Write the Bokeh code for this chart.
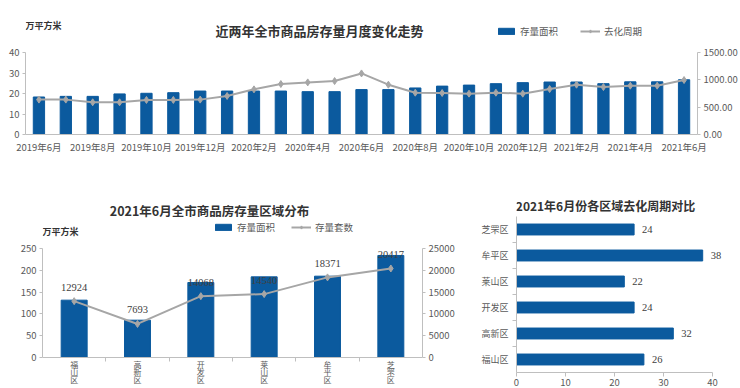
from bokeh.plotting import figure
from bokeh.models import (Range1d, LinearAxis, FixedTicker, NumeralTickFormatter, Label,
                          Legend, LegendItem, ColumnDataSource, LabelSet)
from bokeh.layouts import column, row
from bokeh.embed import file_html
from bokeh.resources import INLINE

FONT = "Noto Sans CJK SC"
BLUE = "#0b5a9e"
GRAY = "#a6a6a6"
AXIS = "#bfbfbf"
TICK_TXT = "#595959"
TITLE_TXT = "#333333"

# ---------------- data ----------------
months = ["2019年6月", "2019年7月", "2019年8月", "2019年9月", "2019年10月", "2019年11月",
          "2019年12月", "2020年1月", "2020年2月", "2020年3月", "2020年4月", "2020年5月",
          "2020年6月", "2020年7月", "2020年8月", "2020年9月", "2020年10月", "2020年11月",
          "2020年12月", "2021年1月", "2021年2月", "2021年3月", "2021年4月", "2021年5月",
          "2021年6月"]
stock_area = [18.3, 18.6, 18.6, 19.8, 20.1, 20.4, 21.2, 21.2, 21.2, 21.2, 20.9, 20.9, 21.9,
              21.9, 22.7, 23.6, 24.1, 24.8, 25.3, 25.6, 25.6, 24.8, 25.7, 25.7, 26.7]
destock_cycle = [638, 638, 589, 589, 632, 632, 638, 705, 826, 923, 953, 978, 1117,
                 911, 765, 759, 747, 765, 747, 832, 911, 868, 893, 893, 996]
area_ticks = [0, 10, 20, 30, 40]
cycle_ticks = [0, 500, 1000, 1500]

districts = ["福山区", "高新区", "开发区", "莱山区", "牟平区", "芝罘区"]
district_area = [131.5, 85.6, 172, 185, 186.5, 234]
district_units = [12924, 7693, 14068, 14540, 18371, 20417]
d_area_ticks = [0, 50, 100, 150, 200, 250]
d_unit_ticks = [0, 5000, 10000, 15000, 20000, 25000]

cycle_districts = ["福山区", "高新区", "开发区", "莱山区", "牟平区", "芝罘区"]  # bottom to top
cycle_months = [26, 32, 24, 22, 38, 24]
month_ticks = [0, 10, 20, 30, 40]


def style_axis(ax, size="9.5px"):
    ax.axis_line_color = AXIS
    ax.major_tick_line_color = AXIS
    ax.minor_tick_line_color = None
    ax.major_tick_in = 0
    ax.major_tick_out = 3
    ax.major_label_text_font = FONT
    ax.major_label_text_font_size = size
    ax.major_label_text_color = TICK_TXT
    ax.major_label_standoff = 3


def base_fig(w, h, xr, yr, bl, br, bt, bb):
    p = figure(width=w, height=h, x_range=xr, y_range=yr, output_backend="svg",
               toolbar_location=None, min_border_left=bl, min_border_right=br,
               min_border_top=bt, min_border_bottom=bb, title=None)
    p.frame_align = False
    p.outline_line_color = None
    p.xgrid.visible = False
    p.ygrid.visible = False
    p.background_fill_color = "white"
    p.border_fill_color = "white"
    return p


def txt(p, x, y, s, size="12px", bold=False, align="left", color=TITLE_TXT):
    p.add_layout(Label(x=x, y=y, x_units="screen", y_units="screen", text=s,
                       text_font=FONT, text_font_size=size,
                       text_font_style="bold" if bold else "normal",
                       text_align=align, text_baseline="middle", text_color=color))


def legend(p, items, loc, spacing=22):
    lg = Legend(items=items, location=loc, orientation="horizontal",
                border_line_color=None, background_fill_alpha=0, padding=0, margin=0,
                spacing=spacing, glyph_width=20, glyph_height=8, label_height=8,
                label_standoff=4, label_text_font=FONT, label_text_font_size="9.5px",
                label_text_color=TICK_TXT)
    p.add_layout(lg)


# ---------------- top chart ----------------
# frame covers canvas from its top; the axes are bounded to the data span
H1, FB1, TOP1 = 172, 134, 52          # canvas height, frame bottom px, px where axis max sits
ext1 = FB1 / (FB1 - TOP1)
idx = list(range(len(months)))
p1 = base_fig(740, H1, Range1d(-0.5, len(months) - 0.5),
              Range1d(0, area_ticks[-1] * ext1), 25, 40, 0, H1 - FB1)
p1.extra_y_ranges = {"r": Range1d(0, cycle_ticks[-1] * ext1)}
src1 = ColumnDataSource(dict(x=idx, area=stock_area, cyc=destock_cycle))
b1 = p1.vbar(x="x", top="area", width=0.42, source=src1, fill_color=BLUE, line_color=BLUE)
l1 = p1.line(x="x", y="cyc", source=src1, y_range_name="r", line_color=GRAY, line_width=2)
s1 = p1.scatter(x="x", y="cyc", source=src1, y_range_name="r", marker="diamond", size=7,
                fill_color=GRAY, line_color=GRAY)

p1.yaxis.ticker = FixedTicker(ticks=area_ticks)
p1.yaxis.bounds = (area_ticks[0], area_ticks[-1])
style_axis(p1.yaxis[0])
p1.xaxis.ticker = FixedTicker(ticks=idx[::2])
p1.xaxis.major_label_overrides = {i: months[i] for i in idx[::2]}
style_axis(p1.xaxis[0])
p1.xaxis.major_tick_out = 0
p1.xaxis.major_label_standoff = 5
rax1 = LinearAxis(y_range_name="r", ticker=FixedTicker(ticks=cycle_ticks),
                  formatter=NumeralTickFormatter(format="0.00"),
                  bounds=(cycle_ticks[0], cycle_ticks[-1]))
style_axis(rax1)
p1.add_layout(rax1, "right")

txt(p1, 0, FB1 - 25, "万平方米", size="9px", bold=True)
txt(p1, 294, FB1 - 30, "近两年全市商品房存量月度变化走势", size="13px", bold=True, align="center")
legend(p1, [LegendItem(label="存量面积", renderers=[b1]),
            LegendItem(label="去化周期", renderers=[l1, s1])], (471, FB1 - 38))

# ---------------- bottom-left chart ----------------
# frame spans the whole canvas height; the x axis is drawn at value 0
H2, ZERO2, TOP2 = 216, 185, 76         # canvas height, px of value 0, px of axis max
sc2 = (ZERO2 - TOP2) / d_area_ticks[-1]
lo2 = -(H2 - ZERO2) / sc2
hi2 = d_area_ticks[-1] + TOP2 / sc2
rr = d_unit_ticks[-1] / d_area_ticks[-1]
didx = list(range(len(districts)))
p2 = base_fig(478, H2, Range1d(-0.5, len(districts) - 0.5), Range1d(lo2, hi2), 42, 56, 0, 0)
p2.extra_y_ranges = {"r": Range1d(lo2 * rr, hi2 * rr)}
src2 = ColumnDataSource(dict(x=didx, area=district_area, units=district_units,
                             lab=[str(v) for v in district_units]))
b2 = p2.vbar(x="x", top="area", width=0.41, source=src2, fill_color=BLUE, line_color=BLUE)
l2 = p2.line(x="x", y="units", source=src2, y_range_name="r", line_color=GRAY, line_width=2)
s2 = p2.scatter(x="x", y="units", source=src2, y_range_name="r", marker="diamond", size=7,
                fill_color=GRAY, line_color=GRAY)
p2.add_layout(LabelSet(x="x", y="units", text="lab", source=src2, y_range_name="r",
                       y_offset=14, text_align="center", text_baseline="middle",
                       text_font=FONT, text_font_size="10.5px", text_color="#404040"))

p2.yaxis.ticker = FixedTicker(ticks=d_area_ticks)
p2.yaxis.bounds = (d_area_ticks[0], d_area_ticks[-1])
style_axis(p2.yaxis[0])
p2.xaxis.fixed_location = 0
p2.xaxis.ticker = FixedTicker(ticks=didx, minor_ticks=[i + 0.5 for i in didx[:-1]])
p2.xaxis.major_label_overrides = {i: "\n".join(d) for i, d in zip(didx, districts)}
style_axis(p2.xaxis[0], size="8px")
p2.xaxis.major_label_text_line_height = 0.72
p2.xaxis.major_tick_out = 0
p2.xaxis.major_label_standoff = -3
p2.xaxis.minor_tick_line_color = AXIS
p2.xaxis.minor_tick_in = 0
p2.xaxis.minor_tick_out = 4
rax2 = LinearAxis(y_range_name="r", ticker=FixedTicker(ticks=d_unit_ticks),
                  formatter=NumeralTickFormatter(format="0"),
                  bounds=(d_unit_ticks[0], d_unit_ticks[-1]))
style_axis(rax2)
p2.add_layout(rax2, "right")

txt(p2, 167, H2 - 38, "2021年6月全市商品房存量区域分布", size="12.5px", bold=True, align="center")
txt(p2, 0, H2 - 59, "万平方米", size="9px", bold=True)
legend(p2, [LegendItem(label="存量面积", renderers=[b2]),
            LegendItem(label="存量套数", renderers=[l2, s2])], (171, H2 - 62), spacing=16)

# ---------------- bottom-right chart ----------------
H3, FB3, SLOT3 = 216, 200, 26         # canvas height, frame bottom px, px per category
W3, FL3, FR3 = 262, 38, 234           # canvas width, frame left px, px where axis max sits
cidx = list(range(len(cycle_districts)))
xext3 = (W3 - FL3) / (FR3 - FL3)
p3 = base_fig(W3, H3, Range1d(0, month_ticks[-1] * xext3),
              Range1d(-0.5, -0.5 + FB3 / SLOT3), FL3, 0, 0, H3 - FB3)
src3 = ColumnDataSource(dict(y=cidx, v=cycle_months, lab=[str(v) for v in cycle_months]))
p3.hbar(y="y", right="v", height=0.42, source=src3, fill_color=BLUE, line_color=BLUE)
p3.add_layout(LabelSet(x="v", y="y", text="lab", source=src3, x_offset=8,
                       text_align="left", text_baseline="middle",
                       text_font=FONT, text_font_size="10.5px", text_color="#404040"))
p3.xaxis.ticker = FixedTicker(ticks=month_ticks)
p3.xaxis.bounds = (month_ticks[0], month_ticks[-1])
style_axis(p3.xaxis[0])
p3.xaxis.major_tick_out = 4
p3.xaxis.major_label_standoff = 2
p3.yaxis.ticker = FixedTicker(ticks=cidx, minor_ticks=[i + 0.5 for i in cidx[:-1]])
p3.yaxis.bounds = (-0.5, len(cidx) - 0.5)
p3.yaxis.major_label_overrides = {i: d for i, d in zip(cidx, cycle_districts)}
style_axis(p3.yaxis[0], size="9px")
p3.yaxis.major_tick_out = 0
p3.yaxis.major_label_standoff = 4
p3.yaxis.minor_tick_line_color = AXIS
p3.yaxis.minor_tick_in = 0
p3.yaxis.minor_tick_out = 4

txt(p3, 89, FB3 - 33, "2021年6月份各区域去化周期对比", size="12px", bold=True, align="center")

layout = column(p1, row(p2, p3))
open("out.html", "w").write(file_html(layout, INLINE))
